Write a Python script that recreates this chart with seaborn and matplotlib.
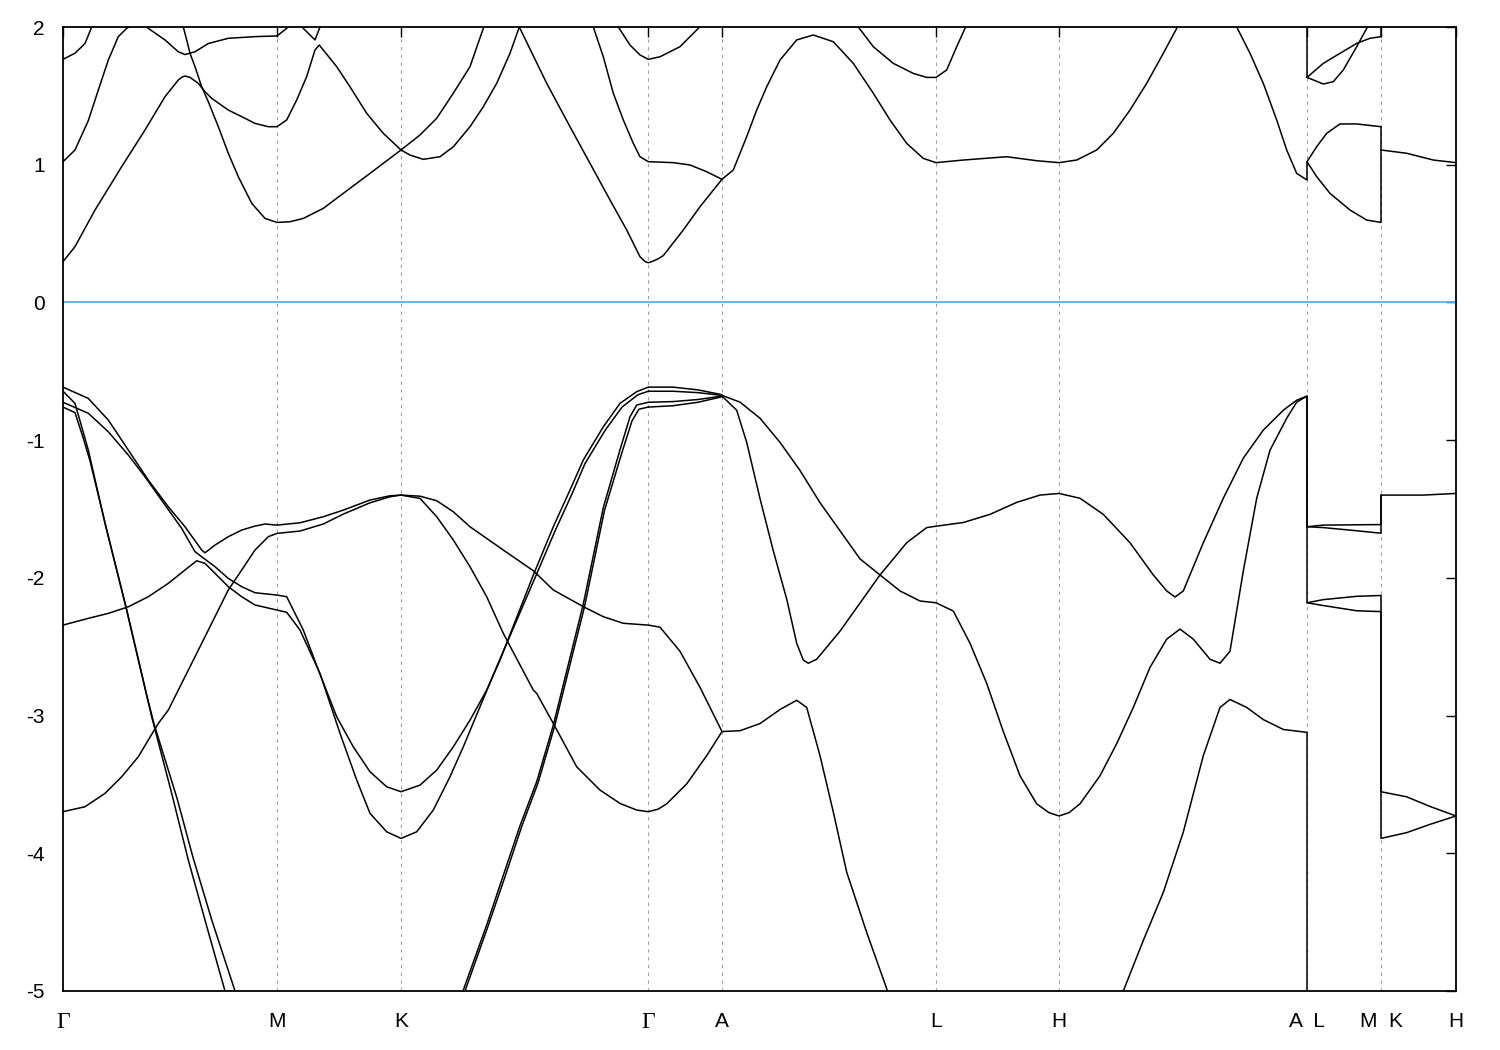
import pandas as pd
import matplotlib
matplotlib.use("Agg")
import matplotlib.pyplot as plt
import seaborn as sns

# high-symmetry points along the k-path (path length, arbitrary units)
kpath_ticks = [0.0, 2.14, 3.38, 5.85, 6.59, 8.73, 9.96, 12.44, 13.18, 13.93]
kpath_labels = ["Γ", "M", "K", "Γ", "A", "L", "H", "A  L", "M  K", "H"]
energy_ticks = [2, 1, 0, -1, -2, -3, -4, -5]
e_fermi = 0.0

# conduction bands, (k, E in eV)
cb_a = [(0.00, 0.296), (0.12, 0.405), (0.32, 0.671), (0.587, 0.986), (0.82, 1.252), (1.02, 1.494),
        (1.153, 1.615), (1.19, 1.636), (1.22, 1.644), (1.27, 1.634), (1.353, 1.591), (1.42, 1.53),
        (1.487, 1.482), (1.653, 1.397), (1.787, 1.349), (1.92, 1.30), (2.053, 1.276), (2.14, 1.276),
        (2.237, 1.325), (2.337, 1.47), (2.437, 1.64), (2.52, 1.833), (2.563, 1.869), (2.737, 1.712),
        (2.87, 1.566), (3.037, 1.373), (3.203, 1.228), (3.38, 1.107), (3.47, 1.07), (3.603, 1.039),
        (3.77, 1.058), (3.903, 1.13), (4.07, 1.276), (4.203, 1.421), (4.337, 1.591), (4.47, 1.809),
        (4.563, 2.0), (4.837, 1.591), (5.07, 1.276), (5.27, 1.01), (5.47, 0.744), (5.637, 0.526),
        (5.77, 0.332), (5.82, 0.297), (5.853, 0.288), (5.89, 0.297), (5.95, 0.316), (6.003, 0.34),
        (6.203, 0.526), (6.37, 0.695), (6.59, 0.894), (6.703, 0.962), (6.837, 1.204), (6.937, 1.397),
        (7.037, 1.566), (7.17, 1.76), (7.337, 1.906), (7.503, 1.942), (7.703, 1.893), (7.903, 1.736),
        (8.103, 1.519), (8.27, 1.325), (8.437, 1.155), (8.603, 1.046), (8.73, 1.015), (9.003, 1.034),
        (9.437, 1.058), (9.737, 1.029), (9.96, 1.015), (10.137, 1.034), (10.337, 1.107), (10.503, 1.228),
        (10.67, 1.397), (10.837, 1.591), (11.003, 1.809), (11.137, 1.99), (11.2, 2.08)]
cb_b = [(1.17, 2.08), (1.203, 2.0), (1.237, 1.906), (1.27, 1.809), (1.32, 1.712), (1.387, 1.566),
        (1.453, 1.458), (1.553, 1.276), (1.653, 1.083), (1.753, 0.913), (1.887, 0.72), (2.02, 0.61),
        (2.14, 0.581), (2.27, 0.586), (2.403, 0.61), (2.603, 0.683), (2.803, 0.792), (3.07, 0.937),
        (3.38, 1.107), (3.57, 1.216), (3.737, 1.337), (3.903, 1.519), (4.07, 1.712), (4.203, 1.99),
        (4.25, 2.1)]
cb_c = [(0.0, 1.022), (0.12, 1.107), (0.253, 1.32), (0.353, 1.542), (0.453, 1.76), (0.553, 1.93),
        (0.637, 1.99), (0.75, 2.04), (0.853, 1.99), (1.02, 1.906), (1.153, 1.82), (1.22, 1.80),
        (1.32, 1.82), (1.453, 1.88), (1.653, 1.918), (1.92, 1.93), (2.14, 1.935), (2.237, 1.99),
        (2.30, 2.05)]
cb_d = [(0.0, 1.765), (0.12, 1.81), (0.22, 1.88), (0.287, 2.0), (0.33, 2.08)]
cb_e = [(2.35, 2.06), (2.403, 1.99), (2.52, 1.906), (2.57, 2.0), (2.60, 2.06)]
cb_f = [(5.27, 2.1), (5.303, 2.0), (5.403, 1.784), (5.503, 1.519), (5.603, 1.325), (5.703, 1.155),
        (5.77, 1.058), (5.853, 1.022), (6.103, 1.015), (6.27, 0.998), (6.437, 0.949), (6.59, 0.894)]
cb_g = [(5.52, 2.06), (5.553, 2.0), (5.67, 1.869), (5.77, 1.797), (5.853, 1.765), (5.97, 1.784),
        (6.17, 1.857), (6.353, 1.99), (6.40, 2.05)]
cb_h = [(7.92, 2.06), (7.953, 2.0), (8.103, 1.857), (8.303, 1.736), (8.503, 1.663), (8.637, 1.634),
        (8.73, 1.634), (8.837, 1.688), (8.937, 1.857), (9.02, 1.99), (9.05, 2.06)]
cb_i = [(11.70, 2.08), (11.737, 2.0), (11.87, 1.809), (12.003, 1.591), (12.137, 1.325), (12.237, 1.107),
        (12.337, 0.937), (12.44, 0.889), (12.44, 1.022), (12.537, 1.131), (12.637, 1.228), (12.77, 1.296),
        (12.937, 1.296), (13.18, 1.276), (13.18, 1.107), (13.437, 1.083), (13.703, 1.034), (13.93, 1.015)]
cb_j = [(12.44, 1.022), (12.537, 0.913), (12.67, 0.792), (12.87, 0.671), (13.037, 0.598), (13.18, 0.581),
        (13.18, 1.107)]
cb_k = [(12.44, 2.1), (12.44, 1.634), (12.603, 1.736), (12.77, 1.809), (12.937, 1.881), (13.07, 1.918),
        (13.18, 1.93), (13.18, 2.05)]
cb_l = [(12.44, 1.634), (12.603, 1.586), (12.703, 1.603), (12.803, 1.688), (12.937, 1.857),
        (13.037, 1.99), (13.07, 2.05)]

# valence bands
vb_1 = [(0.0, -0.615), (0.253, -0.697), (0.453, -0.854), (0.653, -1.072), (0.853, -1.29), (1.053, -1.484),
        (1.22, -1.629), (1.387, -1.798), (1.42, -1.818), (1.52, -1.762), (1.653, -1.701), (1.787, -1.653),
        (1.92, -1.624), (2.02, -1.609), (2.14, -1.617), (2.37, -1.60), (2.603, -1.556), (2.803, -1.508),
        (3.07, -1.435), (3.27, -1.404), (3.38, -1.399), (3.57, -1.407), (3.737, -1.44), (3.903, -1.52),
        (4.07, -1.629), (4.403, -1.798), (4.703, -1.948), (4.903, -2.088), (5.203, -2.209), (5.403, -2.282),
        (5.603, -2.33), (5.853, -2.343), (5.97, -2.358), (6.17, -2.533), (6.37, -2.795), (6.59, -3.116),
        (6.77, -3.11), (6.97, -3.058), (7.17, -2.956), (7.337, -2.889), (7.437, -2.941), (7.57, -3.291),
        (7.703, -3.70), (7.837, -4.137), (8.037, -4.575), (8.237, -4.983), (8.26, -5.05)]
vb_2 = [(0.0, -0.725), (0.253, -0.805), (0.453, -0.939), (0.653, -1.108), (0.82, -1.266), (1.02, -1.471),
        (1.187, -1.641), (1.32, -1.81), (1.387, -1.847), (1.52, -1.919), (1.653, -2.004), (1.787, -2.064),
        (1.92, -2.108), (2.14, -2.125), (2.237, -2.137), (2.403, -2.379), (2.57, -2.70), (2.737, -3.009),
        (2.903, -3.227), (3.07, -3.408), (3.237, -3.517), (3.38, -3.553), (3.57, -3.505), (3.737, -3.396),
        (3.903, -3.227), (4.07, -3.033), (4.237, -2.815), (4.37, -2.597), (4.703, -1.98), (4.903, -1.629),
        (5.07, -1.362), (5.203, -1.144), (5.403, -0.903), (5.57, -0.733), (5.737, -0.648), (5.853, -0.615)]
vb_3 = [(0.0, -0.645), (0.12, -0.733), (0.187, -0.903), (0.253, -1.072), (0.42, -1.604), (0.62, -2.185),
        (0.82, -2.802), (0.887, -3.009), (1.087, -3.565), (1.253, -4.049), (1.42, -4.485), (1.62, -5.0),
        (1.64, -5.05)]
vb_4 = [(0.0, -0.76), (0.12, -0.80), (0.20, -0.98), (0.27, -1.15), (0.44, -1.66), (0.64, -2.24),
        (0.84, -2.86), (0.91, -3.06), (1.14, -3.60), (1.30, -4.03), (1.49, -4.49), (1.72, -5.0),
        (1.74, -5.05)]
vb_5 = [(0.0, -2.343), (0.253, -2.294), (0.453, -2.258), (0.653, -2.21), (0.853, -2.137), (1.053, -2.04),
        (1.22, -1.943), (1.337, -1.876), (1.42, -1.895), (1.52, -1.967), (1.653, -2.064), (1.787, -2.137),
        (1.92, -2.197), (2.14, -2.234), (2.237, -2.25), (2.37, -2.379), (2.57, -2.694), (2.77, -3.129),
        (2.937, -3.468), (3.07, -3.71), (3.237, -3.844), (3.38, -3.892), (3.537, -3.844), (3.703, -3.686),
        (3.87, -3.444), (4.003, -3.227), (4.17, -2.936), (4.337, -2.645), (4.72, -2.0), (4.92, -1.66),
        (5.09, -1.39), (5.22, -1.17), (5.42, -0.93), (5.59, -0.76), (5.75, -0.67), (5.853, -0.645)]
vb_6 = [(0.0, -3.698), (0.22, -3.662), (0.42, -3.565), (0.587, -3.444), (0.753, -3.299), (0.903, -3.117),
        (0.953, -3.057), (1.053, -2.96), (1.153, -2.815), (1.32, -2.573), (1.487, -2.33), (1.653, -2.088),
        (1.787, -1.943), (1.92, -1.798), (2.053, -1.701), (2.14, -1.677), (2.37, -1.66), (2.603, -1.609),
        (2.803, -1.537), (3.07, -1.455), (3.27, -1.411), (3.38, -1.399), (3.57, -1.423), (3.737, -1.556),
        (3.903, -1.725), (4.07, -1.919), (4.237, -2.137), (4.403, -2.403), (4.703, -2.815), (4.737, -2.839),
        (4.903, -3.057), (5.137, -3.372), (5.37, -3.541), (5.57, -3.638), (5.737, -3.686), (5.853, -3.698),
        (5.95, -3.68), (6.037, -3.641), (6.237, -3.496), (6.437, -3.291), (6.59, -3.116)]
vb_7 = [(3.99, -5.05), (4.00, -5.0), (4.237, -4.52), (4.403, -4.16), (4.57, -3.80), (4.737, -3.48),
        (4.903, -3.07), (5.07, -2.58), (5.203, -2.19), (5.403, -1.49), (5.57, -1.07), (5.67, -0.83),
        (5.737, -0.745), (5.853, -0.725)]
vb_8 = [(4.01, -5.05), (4.02, -5.0), (4.25, -4.53), (4.42, -4.17), (4.585, -3.81), (4.75, -3.49),
        (4.915, -3.08), (5.08, -2.60), (5.215, -2.21), (5.415, -1.51), (5.585, -1.10), (5.69, -0.86),
        (5.76, -0.775), (5.853, -0.76)]

# Gamma-A, nearly flat top valence bands
va_1 = [(5.853, -0.615), (6.1, -0.615), (6.35, -0.635), (6.59, -0.67)]
va_2 = [(5.853, -0.645), (6.1, -0.645), (6.35, -0.655), (6.59, -0.675)]
va_3 = [(5.853, -0.725), (6.1, -0.72), (6.35, -0.705), (6.59, -0.68)]
va_4 = [(5.853, -0.76), (6.1, -0.75), (6.35, -0.725), (6.59, -0.685)]

# A-L-H-A | L-M | K-H
vl_1 = [(6.59, -0.68), (6.737, -0.783), (6.837, -1.016), (6.97, -1.424), (7.103, -1.804), (7.237, -2.154),
        (7.337, -2.475), (7.403, -2.597), (7.453, -2.62), (7.537, -2.591), (7.77, -2.387), (7.97, -2.183),
        (8.17, -1.979), (8.437, -1.745), (8.637, -1.635), (8.73, -1.625), (9.003, -1.598), (9.27, -1.539),
        (9.537, -1.452), (9.77, -1.399), (9.96, -1.387), (10.17, -1.422), (10.403, -1.539), (10.67, -1.745),
        (10.903, -1.979), (11.037, -2.095), (11.12, -2.139), (11.203, -2.095), (11.403, -1.745),
        (11.603, -1.422), (11.803, -1.131), (12.003, -0.927), (12.203, -0.783), (12.337, -0.71),
        (12.44, -0.68), (12.44, -1.629), (12.603, -1.617), (13.18, -1.613), (13.18, -1.399),
        (13.60, -1.399), (13.93, -1.387)]
vl_2 = [(6.59, -0.675), (6.77, -0.724), (6.97, -0.841), (7.17, -1.016), (7.37, -1.22), (7.57, -1.454),
        (7.77, -1.658), (7.97, -1.862), (8.17, -1.979), (8.37, -2.095), (8.57, -2.168), (8.73, -2.181),
        (8.903, -2.241), (9.07, -2.475), (9.237, -2.766), (9.403, -3.116), (9.57, -3.437), (9.737, -3.641),
        (9.86, -3.705), (9.96, -3.729), (10.06, -3.705), (10.17, -3.641), (10.37, -3.437), (10.537, -3.204),
        (10.703, -2.941), (10.87, -2.65), (11.037, -2.445), (11.17, -2.372), (11.303, -2.445), (11.47, -2.591),
        (11.57, -2.62), (11.67, -2.533), (11.803, -1.95), (11.937, -1.422), (12.07, -1.073), (12.237, -0.841),
        (12.337, -0.724), (12.44, -0.68), (12.44, -2.181), (12.603, -2.158), (12.937, -2.134), (13.18, -2.128),
        (13.18, -3.553), (13.437, -3.59), (13.67, -3.66), (13.93, -3.729)]
vl_3 = [(12.44, -1.629), (12.603, -1.635), (12.937, -1.658), (13.18, -1.676), (13.18, -1.399)]
vl_4 = [(12.44, -2.181), (12.603, -2.201), (12.937, -2.239), (13.18, -2.245), (13.18, -3.892),
        (13.437, -3.85), (13.67, -3.79), (13.93, -3.729)]
vh_1 = [(10.59, -5.05), (10.603, -5.0), (10.803, -4.633), (11.003, -4.284), (11.203, -3.846), (11.403, -3.291),
        (11.57, -2.941), (11.67, -2.883), (11.837, -2.941), (12.003, -3.029), (12.203, -3.101), (12.44, -3.122),
        (12.44, -5.1)]

bands = [cb_a, cb_b, cb_c, cb_d, cb_e, cb_f, cb_g, cb_h, cb_i, cb_j, cb_k, cb_l,
         vb_1, vb_2, vb_3, vb_4, vb_5, vb_6, vb_7, vb_8, va_1, va_2, va_3, va_4,
         vl_1, vl_2, vl_3, vl_4, vh_1]

rows = []
for i, band in enumerate(bands):
    for k, e in band:
        rows.append((i, k, e))
df = pd.DataFrame(rows, columns=["band", "k", "E"])

sns.set_style("white")
plt.rcParams["font.family"] = ["Liberation Sans", "DejaVu Sans"]

fig = plt.figure(figsize=(15, 10.5), dpi=100)
ax = fig.add_axes([63 / 1500, 1 - 991 / 1050, 1393 / 1500, 964 / 1050])

# dashed guides at the high-symmetry points
for x in kpath_ticks[1:-1]:
    ax.axvline(x, color="#a0a0a0", lw=0.8, ls=(0, (3, 4)), zorder=0)
ax.axhline(e_fermi, color="#56b4e9", lw=1.3, zorder=1)

sns.lineplot(data=df, x="k", y="E", units="band", estimator=None, sort=False,
             color="black", lw=1.1, legend=False, ax=ax)

ax.set_xlim(kpath_ticks[0], kpath_ticks[-1])
ax.set_ylim(-5, 2)
ax.set_xticks(kpath_ticks)
ax.set_xticklabels(kpath_labels)
ax.set_yticks(energy_ticks)
ax.set_yticklabels([str(t) for t in energy_ticks])
ax.set_xlabel("")
ax.set_ylabel("")
ax.tick_params(direction="in", length=7, width=1, top=True, right=True,
               labelsize=15, colors="black")
ax.tick_params(axis="x", pad=15)
ax.tick_params(axis="y", pad=13)
for lbl in ax.get_xticklabels():
    if lbl.get_text() == "Γ":
        lbl.set_family("Liberation Serif")
        lbl.set_fontsize(17)
for s in ax.spines.values():
    s.set_linewidth(1.3)
    s.set_color("black")

fig.savefig("out.png", dpi=100)
